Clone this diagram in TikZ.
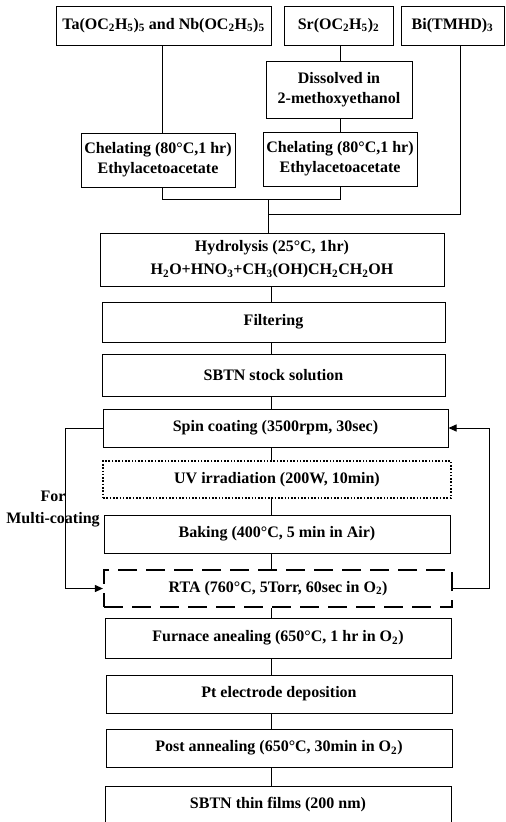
\documentclass[tikz,border=0pt]{standalone}
\usepackage{fontspec}
\setmainfont{Liberation Serif}
\usetikzlibrary{arrows.meta}
\newcommand\sbs[1]{\textsubscript{#1}}
\begin{document}
\begin{tikzpicture}[x=1pt,y=-1pt,
  box/.style={draw,line width=1pt,inner sep=0pt,align=center,font=\fontsize{16}{20}\selectfont\bfseries},
  dotbox/.style={box,line width=1.4pt,dash pattern=on 1.6pt off 1.7pt},
  dashbox/.style={box,line width=2.2pt,dash pattern=on 19pt off 9pt},
  link/.style={line width=1pt},
  arr/.style={line width=1pt,-{Triangle[length=8pt,width=7pt]}},
  lbl/.style={align=center,inner sep=0pt,font=\fontsize{16}{22}\selectfont\bfseries}]
\useasboundingbox (0,0) rectangle (506,822);
% top row
\node[box,minimum width=215pt,minimum height=39pt] (ta) at (163.5,25.5) {Ta(OC\sbs{2}H\sbs{5})\sbs{5} and Nb(OC\sbs{2}H\sbs{5})\sbs{5}};
\node[box,minimum width=109pt,minimum height=39pt] (sr) at (338.5,25.5) {Sr(OC\sbs{2}H\sbs{5})\sbs{2}};
\node[box,minimum width=103pt,minimum height=39pt] (bi) at (452.5,25.5) {Bi(TMHD)\sbs{3}};
\node[box,minimum width=146pt,minimum height=57pt] (dis) at (339,89.5) {Dissolved in\\2-methoxyethanol};
\node[box,minimum width=154pt,minimum height=54pt] (ch1) at (158,160) {Chelating (80°C,1 hr)\\Ethylacetoacetate};
\node[box,minimum width=154pt,minimum height=54pt] (ch2) at (340,159) {Chelating (80°C,1 hr)\\Ethylacetoacetate};
% main chain
\node[box,minimum width=344pt,minimum height=53pt,font=\fontsize{16}{23}\selectfont\bfseries] (hyd) at (272,259.5) {Hydrolysis (25°C, 1hr)\\H\sbs{2}O+HNO\sbs{3}+CH\sbs{3}(OH)CH\sbs{2}CH\sbs{2}OH};
\node[box,minimum width=343pt,minimum height=40pt] (filt) at (273.5,322) {Filtering};
\node[box,minimum width=343pt,minimum height=42pt] (stock) at (273.5,375) {SBTN stock solution};
\node[box,minimum width=345pt,minimum height=38pt] (spin) at (275.5,428) {Spin coating (3500rpm, 30sec)};
\node[dotbox,minimum width=348pt,minimum height=37pt] (uv) at (277,479.5) {UV irradiation (200W, 10min)};
\node[box,minimum width=346pt,minimum height=38pt] (bake) at (277,534) {Baking (400°C, 5 min in Air)};
\node[dashbox,minimum width=348pt,minimum height=37pt] (rta) at (278,588.5) {RTA (760°C, 5Torr, 60sec in O\sbs{2})};
\node[box,minimum width=346pt,minimum height=40pt] (furn) at (278,638) {Furnace anealing (650°C, 1 hr in O\sbs{2})};
\node[box,minimum width=346pt,minimum height=38pt] (pt) at (279,694) {Pt electrode deposition};
\node[box,minimum width=346pt,minimum height=38pt] (post) at (279,748) {Post annealing (650°C, 30min in O\sbs{2})};
\node[box,minimum width=346pt,minimum height=38pt] (thin) at (278,805) {SBTN thin films (200 nm)};
\node[lbl] (fm) at (53,509) {For\\Multi-coating};
% helper coordinates
\coordinate (xa) at (162,0);
\coordinate (xb) at (340,0);
\coordinate (xc) at (460,0);
\coordinate (xs) at (271,0);
\coordinate (j1) at (268,199);
\coordinate (j2) at (268,214);
\coordinate (lx) at (65,0);
\coordinate (rx) at (489,0);
% connectors
\draw[link] (ta.south -| xa) -- (ch1.north -| xa);
\draw[link] (sr.south -| xb) -- (dis.north -| xb);
\draw[link] (dis.south -| xb) -- (ch2.north -| xb);
\draw[link] (ch1.south -| xa) |- (j1);
\draw[link] (ch2.south -| xb) |- (j1);
\draw[link] (bi.south -| xc) |- (j2);
\draw[link] (j1) -- (hyd.north -| j1);
\foreach \a/\b in {hyd/filt,filt/stock,stock/spin,spin/uv,uv/bake,bake/rta,rta/furn,furn/pt,pt/post,post/thin}
  \draw[link] (\a.south -| xs) -- (\b.north -| xs);
\draw[arr] (spin.west) -| (lx |- rta.west) -- (rta.west);
\draw[arr] (rta.east) -| (rx |- spin.east) -- (spin.east);
\end{tikzpicture}
\end{document}
